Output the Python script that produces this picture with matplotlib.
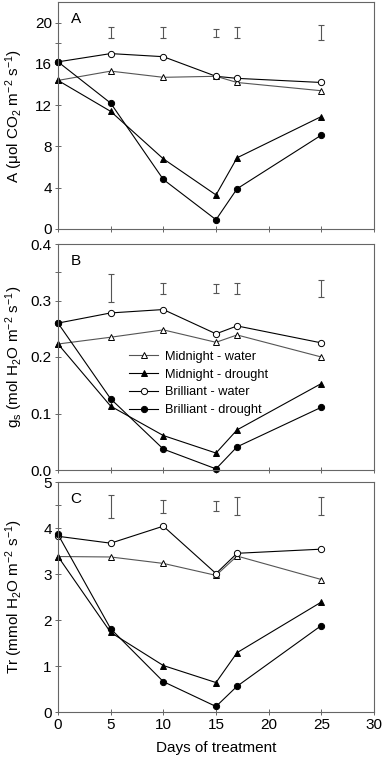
import matplotlib
matplotlib.use("Agg")
import matplotlib.pyplot as plt
from matplotlib.ticker import FixedLocator

plt.rcParams['font.family'] = ['Liberation Sans', 'DejaVu Sans']
plt.rcParams['mathtext.fontset'] = 'custom'
plt.rcParams['mathtext.rm'] = 'Liberation Sans'
plt.rcParams['mathtext.it'] = 'Liberation Sans:italic'
plt.rcParams['mathtext.default'] = 'regular'

days = [0, 5, 10, 15, 17, 25]
series_names = ["Midnight - water", "Midnight - drought", "Brilliant - water", "Brilliant - drought"]

# Panel A: net photosynthesis
A_mid_water = [14.4, 15.3, 14.7, 14.8, 14.2, 13.4]
A_mid_drought = [14.4, 11.4, 6.8, 3.3, 6.9, 10.9]
A_bri_water = [16.2, 17.0, 16.7, 14.8, 14.6, 14.2]
A_bri_drought = [16.2, 12.2, 4.8, 0.9, 3.9, 9.1]
A_err_days = [5, 10, 15, 17, 25]
A_err_center = [19.05, 19.05, 19.0, 19.05, 19.05]
A_err_half = [0.55, 0.55, 0.4, 0.55, 0.75]

# Panel B: stomatal conductance
B_mid_water = [0.223, 0.235, 0.248, 0.226, 0.239, 0.200]
B_mid_drought = [0.223, 0.113, 0.061, 0.030, 0.071, 0.153]
B_bri_water = [0.260, 0.278, 0.284, 0.241, 0.255, 0.225]
B_bri_drought = [0.260, 0.126, 0.037, 0.002, 0.041, 0.111]
B_err_days = [5, 10, 15, 17, 25]
B_err_center = [0.3215, 0.321, 0.321, 0.321, 0.321]
B_err_half = [0.025, 0.010, 0.008, 0.010, 0.015]

# Panel C: transpiration
C_mid_water = [3.38, 3.37, 3.23, 2.97, 3.39, 2.88]
C_mid_drought = [3.38, 1.73, 1.01, 0.64, 1.29, 2.39]
C_bri_water = [3.82, 3.67, 4.04, 3.01, 3.45, 3.54]
C_bri_drought = [3.86, 1.81, 0.66, 0.12, 0.56, 1.88]
C_err_days = [5, 10, 15, 17, 25]
C_err_center = [4.47, 4.47, 4.48, 4.47, 4.47]
C_err_half = [0.245, 0.14, 0.11, 0.195, 0.195]

styles = [
    dict(marker='^', mfc='white', mec='black', color='#555555'),
    dict(marker='^', mfc='black', mec='black', color='black'),
    dict(marker='o', mfc='white', mec='black', color='black'),
    dict(marker='o', mfc='black', mec='black', color='black'),
]

fig = plt.figure(figsize=(3.84, 7.61), dpi=100)
W, H = 384, 761
left, right = 58, 374

def make_ax(top, bottom):
    return fig.add_axes([left / W, 1 - bottom / H, (right - left) / W, (bottom - top) / H])

axA = make_ax(2, 229)
axB = make_ax(244, 470)
axC = make_ax(482, 712)

panels = [
    (axA, [A_mid_water, A_mid_drought, A_bri_water, A_bri_drought], A_err_days, A_err_center, A_err_half,
     (0, 22), [0, 4, 8, 12, 16, 20], [18], 'A (μol CO$_2$ m$^{-2}$ s$^{-1}$)', 'A', '{:g}'),
    (axB, [B_mid_water, B_mid_drought, B_bri_water, B_bri_drought], B_err_days, B_err_center, B_err_half,
     (0, 0.4), [0.0, 0.1, 0.2, 0.3, 0.4], [0.35], 'g$_s$ (mol H$_2$O m$^{-2}$ s$^{-1}$)', 'B', '{:.1f}'),
    (axC, [C_mid_water, C_mid_drought, C_bri_water, C_bri_drought], C_err_days, C_err_center, C_err_half,
     (0, 5), [0, 1, 2, 3, 4, 5], [4.5], 'Tr (mmol H$_2$O m$^{-2}$ s$^{-1}$)', 'C', '{:g}'),
]

frame_col = '#666666'
for ax, data, ed, ec, eh, ylim, yt, ymin, ylab, letter, fmt in panels:
    for vals, st, name in zip(data, styles, series_names):
        ax.plot(days, vals, lw=0.8, ms=4.5, mew=0.7, label=name, clip_on=False, **st)
    ax.errorbar(ed, ec, yerr=eh, fmt='none', ecolor='#555555', elinewidth=0.8, capsize=2.5, capthick=0.8)
    ax.set_xlim(0, 30)
    ax.set_ylim(*ylim)
    ax.set_xticks([0, 5, 10, 15, 20, 25, 30])
    ax.set_yticks(yt)
    ax.set_yticklabels([fmt.format(v) for v in yt])
    ax.yaxis.set_minor_locator(FixedLocator(ymin))
    ax.tick_params(direction='inout', length=5, width=0.7, color=frame_col, labelsize=11, pad=2)
    ax.tick_params(which='minor', direction='inout', length=5, width=0.7, color=frame_col)
    for sp in ax.spines.values():
        sp.set_color(frame_col)
        sp.set_linewidth(0.8)
    ax.set_ylabel(ylab, fontsize=11)
    ax.yaxis.set_label_coords(-0.105, 0.5)
    ax.text(0.04, 0.955, letter, transform=ax.transAxes, fontsize=11, va='top', ha='left')

axA.tick_params(labelbottom=False)
axB.tick_params(labelbottom=False)
axC.set_xlabel('Days of treatment', fontsize=11, labelpad=6)

axB.legend(loc='upper left', bbox_to_anchor=(0.225, 0.527), frameon=False, fontsize=9.2,
           handlelength=2.3, handletextpad=0.5, labelspacing=0.45, borderaxespad=0,
           borderpad=0)

fig.savefig('out.png', dpi=100)
